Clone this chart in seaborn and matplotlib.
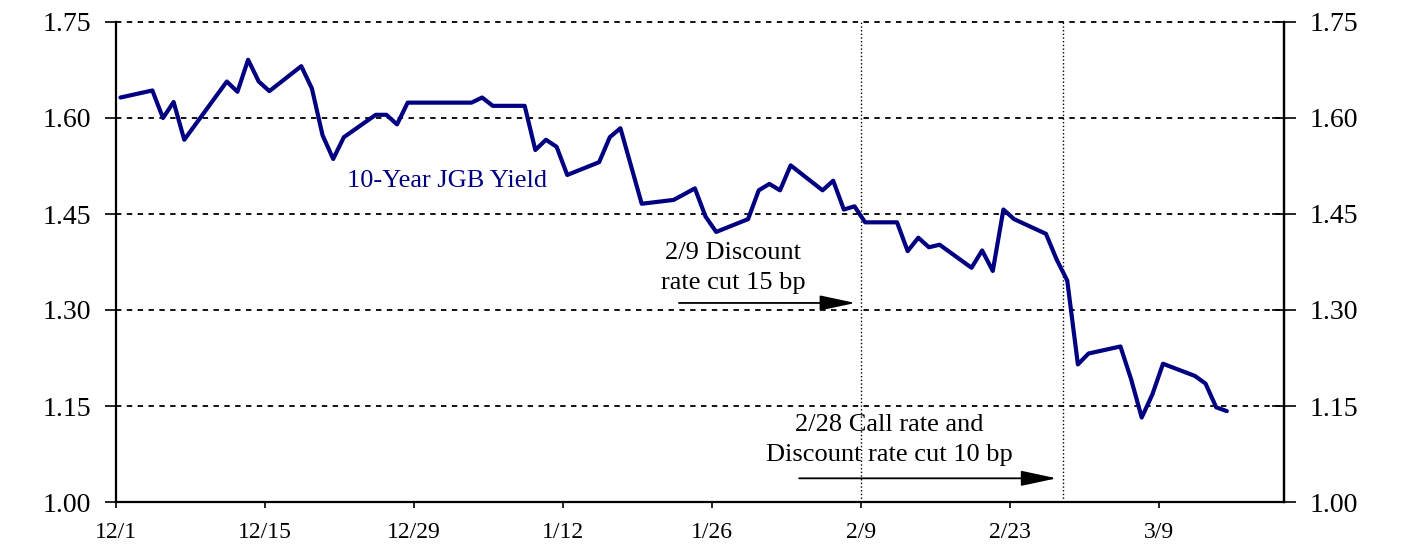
import pandas as pd
import matplotlib
matplotlib.use("Agg")
import matplotlib.pyplot as plt
import seaborn as sns

# data (10-year JGB yield, Dec 2000 - Mar 2001)
dates = [
    "2000-12-01", "2000-12-04", "2000-12-05", "2000-12-06", "2000-12-07",
    "2000-12-11", "2000-12-12", "2000-12-13", "2000-12-14", "2000-12-15",
    "2000-12-18", "2000-12-19", "2000-12-20", "2000-12-21", "2000-12-22",
    "2000-12-25", "2000-12-26", "2000-12-27", "2000-12-28",
    "2001-01-03", "2001-01-04", "2001-01-05", "2001-01-08", "2001-01-09",
    "2001-01-10", "2001-01-11", "2001-01-12", "2001-01-15", "2001-01-16",
    "2001-01-17", "2001-01-19", "2001-01-22", "2001-01-24", "2001-01-25",
    "2001-01-26", "2001-01-29", "2001-01-30", "2001-01-31", "2001-02-01",
    "2001-02-02", "2001-02-05", "2001-02-06", "2001-02-07", "2001-02-08",
    "2001-02-09", "2001-02-12", "2001-02-13", "2001-02-14", "2001-02-15",
    "2001-02-16", "2001-02-19", "2001-02-20", "2001-02-21", "2001-02-22",
    "2001-02-23", "2001-02-26", "2001-02-27", "2001-02-28", "2001-03-01",
    "2001-03-02", "2001-03-05", "2001-03-06", "2001-03-07", "2001-03-08",
    "2001-03-09", "2001-03-12", "2001-03-13", "2001-03-14", "2001-03-15",
]
yields = [
    1.632, 1.643, 1.600, 1.625, 1.566,
    1.657, 1.641, 1.691, 1.657, 1.642,
    1.681, 1.646, 1.573, 1.536, 1.570,
    1.605, 1.605, 1.590, 1.624,
    1.624, 1.632, 1.619, 1.619, 1.550,
    1.566, 1.555, 1.511, 1.531, 1.570,
    1.584, 1.466, 1.472, 1.490, 1.446,
    1.422, 1.442, 1.487, 1.497, 1.487,
    1.526, 1.487, 1.502, 1.457, 1.462,
    1.437, 1.437, 1.392, 1.413, 1.398,
    1.402, 1.366, 1.393, 1.361, 1.457,
    1.442, 1.419, 1.379, 1.346, 1.215,
    1.232, 1.243, 1.192, 1.132, 1.168,
    1.216, 1.197, 1.185, 1.148, 1.142,
]
tick_dates = ["2000-12-01", "2000-12-15", "2000-12-29", "2001-01-12",
              "2001-01-26", "2001-02-09", "2001-02-23", "2001-03-09"]
tick_labels = ["12/1", "12/15", "12/29", "1/12", "1/26", "2/9", "2/23", "3/9"]
y_ticks = [1.00, 1.15, 1.30, 1.45, 1.60, 1.75]
event_dates = ["2001-02-09", "2001-02-28"]

sns.set_theme(style="white")
plt.rcParams["font.family"] = ["Liberation Serif", "DejaVu Serif"]

df = pd.DataFrame({"date": pd.to_datetime(dates), "yield": yields})
# the original plots each day's close a little after the day's tick
df["date"] = df["date"] + pd.Timedelta(hours=10)
navy = "#000080"

fig = plt.figure(figsize=(14.13, 5.45), dpi=100)
ax = fig.add_axes([116 / 1413, 43 / 545, 1168 / 1413, 480 / 545])

sns.lineplot(data=df, x="date", y="yield", ax=ax, color=navy, lw=3.0, zorder=3)

ax.set_xlim(pd.Timestamp("2000-12-01"), pd.Timestamp("2001-03-20 19:00"))
ax.set_ylim(1.00, 1.75)
ax.set_xticks(pd.to_datetime(tick_dates))
ax.set_xticklabels(tick_labels, fontsize=17)
ax.set_yticks(y_ticks)
ax.set_yticklabels([f"{v:.2f}" for v in y_ticks], fontsize=20)
ax.set_xlabel("")
ax.set_ylabel("")

ax.grid(True, axis="y", color="black", linestyle=(0, (3, 3)), linewidth=1.3)
ax.grid(False, axis="x")
ax.set_axisbelow(True)
for gl in ax.get_ygridlines():
    gl.set_clip_on(False)

for d in event_dates:
    ax.axvline(pd.Timestamp(d), color="black", linestyle=":", lw=1.0, zorder=1)

ax.spines["top"].set_visible(False)
for s in ["left", "right", "bottom"]:
    ax.spines[s].set_color("black")
    ax.spines[s].set_linewidth(1.6)

ax.tick_params(axis="y", direction="out", length=8, width=1.2, pad=10, colors="black", left=True)
ax.tick_params(axis="x", direction="out", length=4.5, width=1.2, pad=10, colors="black", bottom=True)

# right-hand axis with the same scale
ax2 = ax.twinx()
ax2.set_ylim(1.00, 1.75)
ax2.set_yticks(y_ticks)
ax2.set_yticklabels([f"{v:.2f}" for v in y_ticks], fontsize=20)
ax2.grid(False)
for s in ["left", "top", "bottom"]:
    ax2.spines[s].set_visible(False)
ax2.spines["right"].set_color("black")
ax2.spines["right"].set_linewidth(1.6)
ax2.tick_params(axis="y", direction="inout", length=17, width=1.2, pad=10, colors="black", right=True)

# annotations
ax.text(pd.Timestamp("2001-01-01 02:00"), 1.501, "10-Year JGB Yield",
        color=navy, fontsize=19, ha="center", va="center")

ax.text(pd.Timestamp("2001-01-28"), 1.366, "2/9 Discount\nrate cut 15 bp",
        color="black", fontsize=19, ha="center", va="center", linespacing=1.45)
ax.annotate("", xy=(pd.Timestamp("2001-02-08 12:00"), 1.311),
            xytext=(pd.Timestamp("2001-01-22 22:00"), 1.311),
            arrowprops=dict(arrowstyle="-|>,head_length=2.2,head_width=0.47",
                            color="black", lw=1.3, shrinkA=0, shrinkB=0,
                            mutation_scale=10))

ax.text(pd.Timestamp("2001-02-11 17:00"), 1.097, "2/28 Call rate and\nDiscount rate cut 10 bp",
        color="black", fontsize=19, ha="center", va="center", linespacing=1.45)
ax.annotate("", xy=(pd.Timestamp("2001-02-27 10:00"), 1.037),
            xytext=(pd.Timestamp("2001-02-03 05:00"), 1.037),
            arrowprops=dict(arrowstyle="-|>,head_length=2.2,head_width=0.47",
                            color="black", lw=1.3, shrinkA=0, shrinkB=0,
                            mutation_scale=10))

fig.savefig("out.png", dpi=100)
